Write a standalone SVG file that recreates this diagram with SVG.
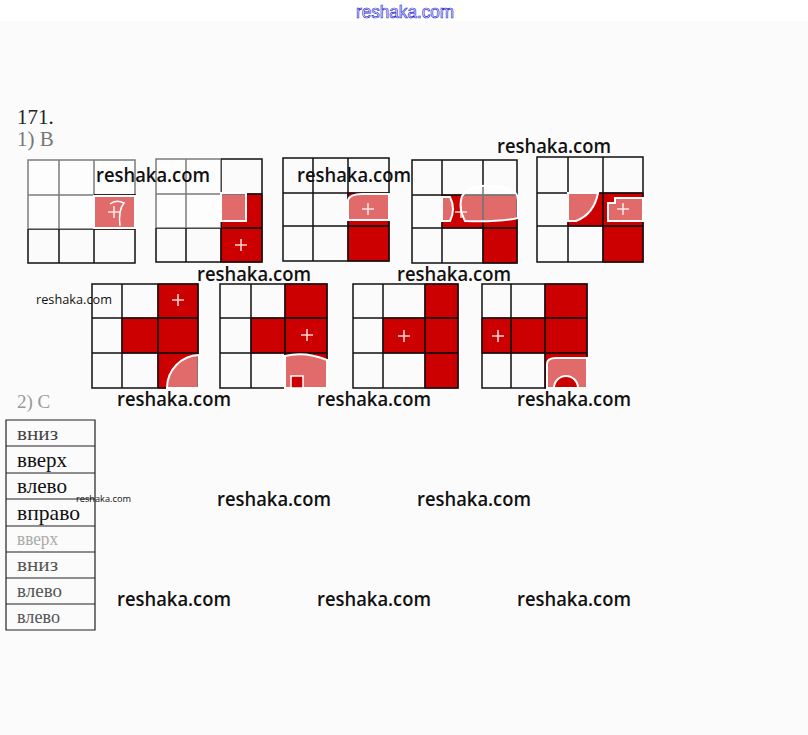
<svg xmlns="http://www.w3.org/2000/svg" width="808" height="735" viewBox="0 0 808 735">
<style>
.red{fill:#cc0000;stroke:#7a0000;stroke-width:1.2}
.grid{fill:none;stroke:#111;stroke-width:1.5}
.plus{stroke:#f6d2d2;stroke-width:1.6;fill:none}
.wm{fill:#fff;fill-opacity:.42;stroke:#fff;stroke-width:2}
.wash{fill:#fff;fill-opacity:.45;stroke:none}
.wt{font-family:"Open Sans","Liberation Sans",sans-serif;font-weight:600;font-size:19px;fill:#111}
.ws{font-family:"Open Sans","Liberation Sans",sans-serif;font-weight:400;fill:#111}
.tm{font-family:"Liberation Serif","DejaVu Serif",serif}
.cell{fill:none;stroke:#222;stroke-width:1.2}
</style>
<rect x="0" y="0" width="808" height="735" fill="#fbfbfb"/>
<rect x="0" y="0" width="808" height="21" fill="#fff"/>
<text x="356" y="18" font-family="Liberation Sans,sans-serif" font-size="18" textLength="98" lengthAdjust="spacingAndGlyphs" fill="#fff" stroke="#2a2ad0" stroke-width="0.7">reshaka.com</text>

<text class="tm" x="17" y="124" font-size="21" fill="#222">171.</text>
<text class="tm" x="17" y="146" font-size="21" fill="#777">1) В</text>

<!-- Row 1 -->
<g id="grid1">
<rect class="red" x="94" y="195" width="41" height="34"/>
<path class="plus" d="M108 212h12M114 206v12"/>
<path class="grid" d="M28 160H135V263H28Z M59 160V263 M94 160V263 M28 195H135 M28 229H135"/>
<path class="wash" d="M27 158H94V229H27Z M94 158H136V194H94Z"/>
<path class="wm" d="M94 196H135V228H94Z"/>
<path d="M110 204Q116 199 124 203Q118 210 120 226" fill="none" stroke="#fff" stroke-width="1.5"/>
</g>
<g id="grid2">
<rect class="red" x="221" y="194" width="41" height="34"/>
<rect class="red" x="221" y="228" width="41" height="34"/>
<path class="plus" d="M235 245h12M241 239v12"/>
<path class="grid" d="M156 159H262V262H156Z M186 159V262 M221 159V262 M156 194H262 M156 228H262"/>
<path class="wash" d="M155 157H221V228H155Z"/>
<path class="wm" d="M221 193H246V221H221Z"/>
</g>
<g id="grid3">
<rect class="red" x="348" y="193" width="41" height="33"/>
<rect class="red" x="348" y="226" width="41" height="35"/>
<path class="plus" d="M362 209h12M368 203v12"/>
<path class="grid" d="M283 158H389V261H283Z M313 158V261 M348 158V261 M283 193H389 M283 226H389"/>
<path class="wm" d="M348 200Q350 194 362 194H389V220H348Z"/>
</g>
<g id="grid4">
<rect class="red" x="442" y="195" width="41" height="33"/>
<rect class="red" x="483" y="195" width="34" height="33"/>
<rect class="red" x="483" y="228" width="34" height="35"/>
<path class="plus" d="M455 212h12M461 206v12"/>
<path class="grid" d="M412 160H517V263H412Z M442 160V263 M483 160V263 M412 195H517 M412 228H517"/>
<path class="wm" d="M442 197H450Q456 209 450 221H442Z"/>
<path class="wm" d="M462 196Q470 184 490 186Q518 186 518 200V218Q500 222 465 221Q458 208 462 196Z"/>
</g>
<g id="grid5">
<rect class="red" x="568" y="193" width="35" height="33"/>
<rect class="red" x="603" y="193" width="40" height="33"/>
<rect class="red" x="603" y="226" width="40" height="36"/>
<path class="plus" d="M617 209h12M623 203v12"/>
<path class="grid" d="M537 157H643V262H537Z M568 157V262 M603 157V262 M537 193H643 M537 226H643"/>
<path class="wm" d="M568 193H598Q594 214 576 221H568Z"/>
<path class="wm" d="M608 203H615V198H643V221H608Z"/>
</g>

<!-- Row 2 -->
<g id="grid6">
<rect class="red" x="158" y="284" width="40" height="34"/>
<rect class="red" x="122" y="318" width="36" height="35"/>
<rect class="red" x="158" y="318" width="40" height="35"/>
<rect class="red" x="158" y="353" width="40" height="35"/>
<path class="plus" d="M172 300h12M178 294v12"/>
<path class="grid" d="M92 284H198V388H92Z M122 284V388 M158 284V388 M92 318H198 M92 353H198"/>
<path class="wm" d="M167 388A33 33 0 0 1 199 355V388Z"/>
</g>
<g id="grid7">
<rect class="red" x="285" y="284" width="42" height="34"/>
<rect class="red" x="251" y="318" width="34" height="35"/>
<rect class="red" x="285" y="318" width="42" height="35"/>
<rect class="red" x="285" y="353" width="42" height="35"/>
<path class="plus" d="M301 335h12M307 329v12"/>
<path class="grid" d="M220 284H327V388H220Z M251 284V388 M285 284V388 M220 318H327 M220 353H327"/>
<path class="wm" d="M285 356Q305 351 327 360V388H285Z"/>
<rect x="291" y="376" width="12" height="12" fill="#cc0000" stroke="#fff" stroke-width="1.5"/>
</g>
<g id="grid8">
<rect class="red" x="425" y="284" width="33" height="34"/>
<rect class="red" x="383" y="318" width="42" height="35"/>
<rect class="red" x="425" y="318" width="33" height="35"/>
<rect class="red" x="425" y="353" width="33" height="35"/>
<path class="plus" d="M398 336h12M404 330v12"/>
<path class="grid" d="M353 284H458V388H353Z M383 284V388 M425 284V388 M353 318H458 M353 353H458"/>
</g>
<g id="grid9">
<rect class="red" x="545" y="284" width="42" height="34"/>
<rect class="red" x="482" y="318" width="29" height="35"/>
<rect class="red" x="511" y="318" width="34" height="35"/>
<rect class="red" x="545" y="318" width="42" height="35"/>
<rect class="red" x="545" y="353" width="42" height="35"/>
<path class="plus" d="M492 336h12M498 330v12"/>
<path class="grid" d="M482 284H587V388H482Z M511 284V388 M545 284V388 M482 318H587 M482 353H587"/>
<path class="wm" d="M547 388V364Q547 358 556 358H587V388Z"/>
<path d="M554 388A12 12 0 0 1 578 388Z" fill="#cc0000" stroke="#fff" stroke-width="2"/>
</g>

<text class="tm" x="17" y="408" font-size="19" fill="#999">2) С</text>

<g id="table">
<path class="cell" d="M6 420H95V630H6Z M6 446H95 M6 473H95 M6 499H95 M6 526H95 M6 552H95 M6 578H95 M6 604H95"/>
<text class="tm" x="17" y="440" font-size="18" textLength="41" lengthAdjust="spacingAndGlyphs" fill="#444">вниз</text>
<text class="tm" x="17" y="467" font-size="21" textLength="50" lengthAdjust="spacingAndGlyphs" fill="#111">вверх</text>
<text class="tm" x="17" y="493" font-size="22" textLength="50" lengthAdjust="spacingAndGlyphs" fill="#111">влево</text>
<text class="tm" x="17" y="520" font-size="22" textLength="63" lengthAdjust="spacingAndGlyphs" fill="#111">вправо</text>
<text class="tm" x="17" y="545" font-size="19" textLength="41" lengthAdjust="spacingAndGlyphs" fill="#aaa">вверх</text>
<text class="tm" x="17" y="571" font-size="19" textLength="41" lengthAdjust="spacingAndGlyphs" fill="#555">вниз</text>
<text class="tm" x="17" y="597" font-size="19" textLength="45" lengthAdjust="spacingAndGlyphs" fill="#555">влево</text>
<text class="tm" x="17" y="623" font-size="19" textLength="43" lengthAdjust="spacingAndGlyphs" fill="#555">влево</text>
</g>

<g id="watermarks">
<text class="wt" x="96" y="182" textLength="114" lengthAdjust="spacingAndGlyphs">reshaka.com</text>
<text class="wt" x="297" y="182" textLength="114" lengthAdjust="spacingAndGlyphs">reshaka.com</text>
<text class="wt" x="497" y="153" textLength="114" lengthAdjust="spacingAndGlyphs">reshaka.com</text>
<text class="wt" x="197" y="281" textLength="114" lengthAdjust="spacingAndGlyphs">reshaka.com</text>
<text class="wt" x="397" y="281" textLength="114" lengthAdjust="spacingAndGlyphs">reshaka.com</text>
<text class="wt" x="117" y="406" textLength="114" lengthAdjust="spacingAndGlyphs">reshaka.com</text>
<text class="wt" x="317" y="406" textLength="114" lengthAdjust="spacingAndGlyphs">reshaka.com</text>
<text class="wt" x="517" y="406" textLength="114" lengthAdjust="spacingAndGlyphs">reshaka.com</text>
<text class="wt" x="217" y="506" textLength="114" lengthAdjust="spacingAndGlyphs">reshaka.com</text>
<text class="wt" x="417" y="506" textLength="114" lengthAdjust="spacingAndGlyphs">reshaka.com</text>
<text class="wt" x="117" y="606" textLength="114" lengthAdjust="spacingAndGlyphs">reshaka.com</text>
<text class="wt" x="317" y="606" textLength="114" lengthAdjust="spacingAndGlyphs">reshaka.com</text>
<text class="wt" x="517" y="606" textLength="114" lengthAdjust="spacingAndGlyphs">reshaka.com</text>
<text class="ws" x="36" y="304" font-size="12" textLength="76" lengthAdjust="spacingAndGlyphs">reshaka.com</text>
<text class="ws" x="76" y="502" font-size="9" textLength="55" lengthAdjust="spacingAndGlyphs">reshaka.com</text>
</g>
</svg>
